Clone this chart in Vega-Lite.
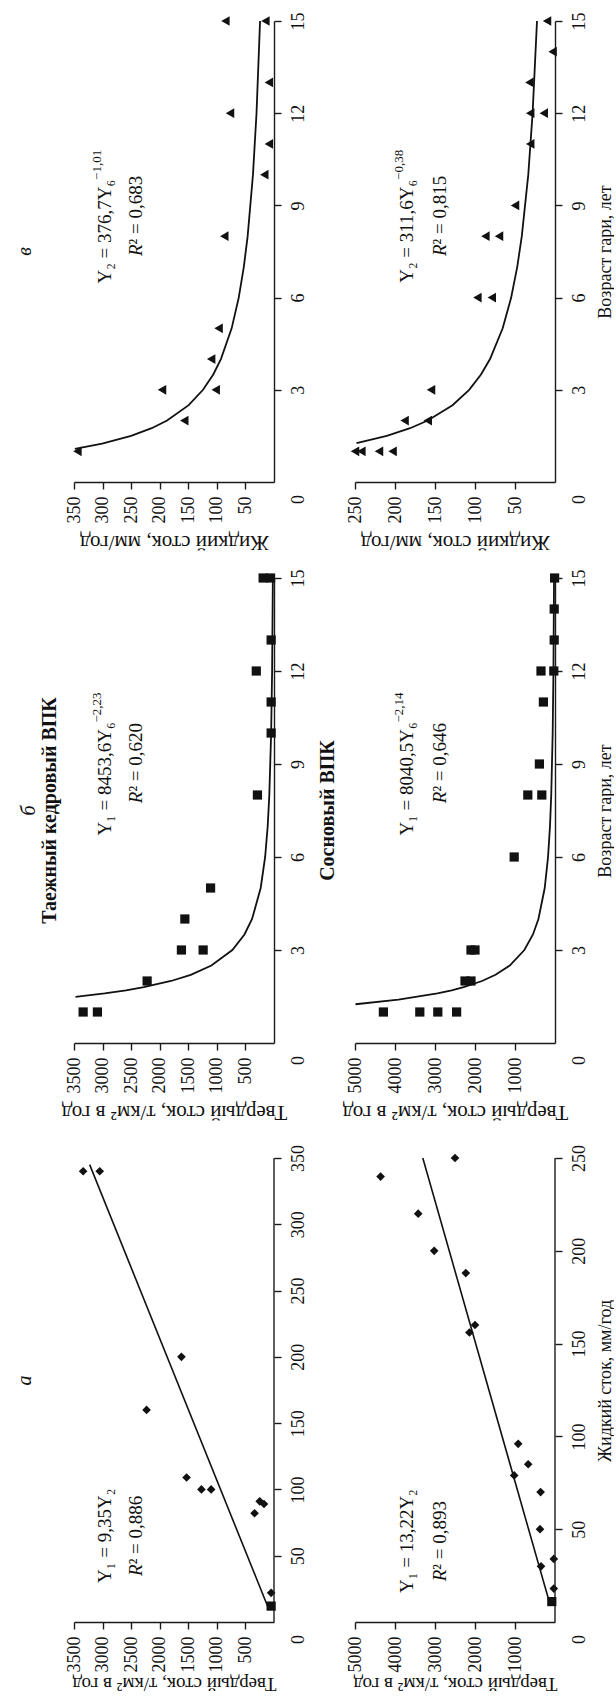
{
  "$schema": "https://vega.github.io/schema/vega-lite/v6.json",
  "background": "white",
  "padding": {"left": 15, "top": 11, "right": 0, "bottom": 0},
  "bounds": "flush",
  "align": "each",
  "columns": 2,
  "spacing": {"row": 96, "column": 81},
  "concat": [
    {
      "width": 200, "height": 461,
      "title": {"text": "в", "orient": "left", "frame": "group", "anchor": "middle", "fontStyle": "italic", "fontWeight": "normal", "fontSize": 20, "offset": 30},
      "layer": [
        {
          "data": {"name": "ta_v"},
          "mark": {"type": "point", "shape": "triangle-left", "filled": true, "color": "#111", "size": 95, "opacity": 1},
          "encoding": {
            "x": {"field": "liquid", "type": "quantitative", "title": "Жидкий сток, мм/год", "scale": {"domain": [0, 350], "reverse": true, "nice": false},
              "axis": {"orient": "bottom", "format": "d", "tickCount": 20, "labelOverlap": false, "values": [50, 100, 150, 200, 250, 300, 350], "labelAngle": 270, "labelAlign": "right", "labelBaseline": "middle", "labelPadding": 7, "titleAngle": 180, "titleBaseline": "bottom", "titlePadding": 8}},
            "y": {"field": "age", "type": "quantitative", "title": null, "scale": {"domain": [0, 15], "nice": false},
              "axis": {"orient": "right", "format": "d", "tickCount": 20, "labelOverlap": false, "values": [0, 3, 6, 9, 12, 15], "labelAngle": 270, "labelAlign": "center", "labelBaseline": "top", "labelPadding": 8,
                "labelOffset": {"condition": {"test": "datum.value == 0", "value": 17}, "value": 0},
                "tickOpacity": {"condition": {"test": "datum.value == 0", "value": 0}, "value": 1}}}
          }
        },
        {
          "data": {"name": "ta_v_fit"},
          "mark": {"type": "line", "color": "#111", "strokeWidth": 1.8},
          "encoding": {"x": {"field": "liquid", "type": "quantitative", "title": "Жидкий сток, мм/год"}, "y": {"field": "age", "type": "quantitative", "title": null}}
        },
        {
          "data": {"values": [{}]},
          "mark": {"type": "text", "angle": 270, "align": "right", "baseline": "middle", "fontSize": 19, "color": "#111"},
          "encoding": {"x": {"datum": 296}, "y": {"datum": 9.83}, "text": {"value": "Y₂ = 376,7Y₆"}}
        },
        {
          "data": {"values": [{}]},
          "mark": {"type": "text", "angle": 270, "align": "left", "baseline": "middle", "fontSize": 13, "dy": -8, "color": "#111"},
          "encoding": {"x": {"datum": 296}, "y": {"datum": 9.83}, "text": {"value": "−1,01"}}
        },
        {
          "data": {"values": [{}]},
          "mark": {"type": "text", "angle": 270, "align": "right", "baseline": "middle", "fontSize": 19, "fontStyle": "italic", "color": "#111"},
          "encoding": {"x": {"datum": 241}, "y": {"datum": 7.73}, "text": {"value": "R"}}
        },
        {
          "data": {"values": [{}]},
          "mark": {"type": "text", "angle": 270, "align": "left", "baseline": "middle", "fontSize": 19, "color": "#111"},
          "encoding": {"x": {"datum": 241}, "y": {"datum": 7.73}, "text": {"value": "² = 0,683"}}
        }
      ]
    },
    {
      "width": 200, "height": 461,
      "layer": [
        {
          "data": {"name": "so_v"},
          "mark": {"type": "point", "shape": "triangle-left", "filled": true, "color": "#111", "size": 95, "opacity": 1},
          "encoding": {
            "x": {"field": "liquid", "type": "quantitative", "title": "Жидкий сток, мм/год", "scale": {"domain": [0, 250], "reverse": true, "nice": false},
              "axis": {"orient": "bottom", "format": "d", "tickCount": 20, "labelOverlap": false, "values": [50, 100, 150, 200, 250], "labelAngle": 270, "labelAlign": "right", "labelBaseline": "middle", "labelPadding": 7, "titleAngle": 180, "titleBaseline": "bottom", "titlePadding": 8}},
            "y": {"field": "age", "type": "quantitative", "title": "Возраст гари, лет", "scale": {"domain": [0, 15], "nice": false},
              "axis": {"orient": "right", "format": "d", "tickCount": 20, "labelOverlap": false, "values": [0, 3, 6, 9, 12, 15], "labelAngle": 270, "labelAlign": "center", "labelBaseline": "top", "labelPadding": 8,
                "labelOffset": {"condition": {"test": "datum.value == 0", "value": 17}, "value": 0},
                "tickOpacity": {"condition": {"test": "datum.value == 0", "value": 0}, "value": 1},
                "titleAngle": 270, "titleBaseline": "top", "titlePadding": 8, "titleFontSize": 18}}
          }
        },
        {
          "data": {"name": "so_v_fit"},
          "mark": {"type": "line", "color": "#111", "strokeWidth": 1.8},
          "encoding": {"x": {"field": "liquid", "type": "quantitative", "title": "Жидкий сток, мм/год"}, "y": {"field": "age", "type": "quantitative", "title": "Возраст гари, лет"}}
        },
        {
          "data": {"values": [{}]},
          "mark": {"type": "text", "angle": 270, "align": "right", "baseline": "middle", "fontSize": 19, "color": "#111"},
          "encoding": {"x": {"datum": 185}, "y": {"datum": 9.83}, "text": {"value": "Y₂ = 311,6Y₆"}}
        },
        {
          "data": {"values": [{}]},
          "mark": {"type": "text", "angle": 270, "align": "left", "baseline": "middle", "fontSize": 13, "dy": -8, "color": "#111"},
          "encoding": {"x": {"datum": 185}, "y": {"datum": 9.83}, "text": {"value": "−0,38"}}
        },
        {
          "data": {"values": [{}]},
          "mark": {"type": "text", "angle": 270, "align": "right", "baseline": "middle", "fontSize": 19, "fontStyle": "italic", "color": "#111"},
          "encoding": {"x": {"datum": 144}, "y": {"datum": 7.73}, "text": {"value": "R"}}
        },
        {
          "data": {"values": [{}]},
          "mark": {"type": "text", "angle": 270, "align": "left", "baseline": "middle", "fontSize": 19, "color": "#111"},
          "encoding": {"x": {"datum": 144}, "y": {"datum": 7.73}, "text": {"value": "² = 0,815"}}
        }
      ]
    },
    {
      "width": 200, "height": 465,
      "title": {"text": "б", "subtitle": "Таежный кедровый ВПК", "orient": "left", "frame": "group", "anchor": "middle", "fontStyle": "italic", "fontWeight": "normal", "fontSize": 20, "subtitleFont": "Liberation Serif", "subtitleFontWeight": "bold", "subtitleFontSize": 20, "subtitleColor": "#111", "subtitlePadding": 1, "offset": 1},
      "layer": [
        {
          "data": {"name": "ta_b"},
          "mark": {"type": "point", "shape": "square", "filled": true, "color": "#111", "size": 85, "opacity": 1},
          "encoding": {
            "x": {"field": "solid", "type": "quantitative", "title": "Твердый сток, т/км² в год", "scale": {"domain": [0, 3500], "reverse": true, "nice": false},
              "axis": {"orient": "bottom", "format": "d", "tickCount": 20, "labelOverlap": false, "values": [500, 1000, 1500, 2000, 2500, 3000, 3500], "labelAngle": 270, "labelAlign": "right", "labelBaseline": "middle", "labelPadding": 7, "titleAngle": 180, "titleBaseline": "bottom", "titlePadding": 8}},
            "y": {"field": "age", "type": "quantitative", "title": null, "scale": {"domain": [0, 15], "nice": false},
              "axis": {"orient": "right", "format": "d", "tickCount": 20, "labelOverlap": false, "values": [0, 3, 6, 9, 12, 15], "labelAngle": 270, "labelAlign": "center", "labelBaseline": "top", "labelPadding": 8,
                "labelOffset": {"condition": {"test": "datum.value == 0", "value": 17}, "value": 0},
                "tickOpacity": {"condition": {"test": "datum.value == 0", "value": 0}, "value": 1}}}
          }
        },
        {
          "data": {"name": "ta_b_fit"},
          "mark": {"type": "line", "color": "#111", "strokeWidth": 1.8},
          "encoding": {"x": {"field": "solid", "type": "quantitative", "title": "Твердый сток, т/км² в год"}, "y": {"field": "age", "type": "quantitative", "title": null}}
        },
        {
          "data": {"values": [{}]},
          "mark": {"type": "text", "angle": 270, "align": "right", "baseline": "middle", "fontSize": 19, "color": "#111"},
          "encoding": {"x": {"datum": 2957}, "y": {"datum": 10.34}, "text": {"value": "Y₁ = 8453,6Y₆"}}
        },
        {
          "data": {"values": [{}]},
          "mark": {"type": "text", "angle": 270, "align": "left", "baseline": "middle", "fontSize": 13, "dy": -8, "color": "#111"},
          "encoding": {"x": {"datum": 2957}, "y": {"datum": 10.34}, "text": {"value": "−2,23"}}
        },
        {
          "data": {"values": [{}]},
          "mark": {"type": "text", "angle": 270, "align": "right", "baseline": "middle", "fontSize": 19, "fontStyle": "italic", "color": "#111"},
          "encoding": {"x": {"datum": 2415}, "y": {"datum": 8.11}, "text": {"value": "R"}}
        },
        {
          "data": {"values": [{}]},
          "mark": {"type": "text", "angle": 270, "align": "left", "baseline": "middle", "fontSize": 19, "color": "#111"},
          "encoding": {"x": {"datum": 2415}, "y": {"datum": 8.11}, "text": {"value": "² = 0,620"}}
        }
      ]
    },
    {
      "width": 200, "height": 465,
      "title": {"text": "Сосновый ВПК", "orient": "left", "frame": "group", "anchor": "middle", "fontWeight": "bold", "fontSize": 20, "offset": 4},
      "layer": [
        {
          "data": {"name": "so_b"},
          "mark": {"type": "point", "shape": "square", "filled": true, "color": "#111", "size": 85, "opacity": 1},
          "encoding": {
            "x": {"field": "solid", "type": "quantitative", "title": "Твердый сток, т/км² в год", "scale": {"domain": [0, 5000], "reverse": true, "nice": false},
              "axis": {"orient": "bottom", "format": "d", "tickCount": 20, "labelOverlap": false, "values": [1000, 2000, 3000, 4000, 5000], "labelAngle": 270, "labelAlign": "right", "labelBaseline": "middle", "labelPadding": 7, "titleAngle": 180, "titleBaseline": "bottom", "titlePadding": 8}},
            "y": {"field": "age", "type": "quantitative", "title": "Возраст гари, лет", "scale": {"domain": [0, 15], "nice": false},
              "axis": {"orient": "right", "format": "d", "tickCount": 20, "labelOverlap": false, "values": [0, 3, 6, 9, 12, 15], "labelAngle": 270, "labelAlign": "center", "labelBaseline": "top", "labelPadding": 8,
                "labelOffset": {"condition": {"test": "datum.value == 0", "value": 17}, "value": 0},
                "tickOpacity": {"condition": {"test": "datum.value == 0", "value": 0}, "value": 1},
                "titleAngle": 270, "titleBaseline": "top", "titlePadding": 8, "titleFontSize": 18}}
          }
        },
        {
          "data": {"name": "so_b_fit"},
          "mark": {"type": "line", "color": "#111", "strokeWidth": 1.8},
          "encoding": {"x": {"field": "solid", "type": "quantitative", "title": "Твердый сток, т/км² в год"}, "y": {"field": "age", "type": "quantitative", "title": "Возраст гари, лет"}}
        },
        {
          "data": {"values": [{}]},
          "mark": {"type": "text", "angle": 270, "align": "right", "baseline": "middle", "fontSize": 19, "color": "#111"},
          "encoding": {"x": {"datum": 3700}, "y": {"datum": 10.34}, "text": {"value": "Y₁ = 8040,5Y₆"}}
        },
        {
          "data": {"values": [{}]},
          "mark": {"type": "text", "angle": 270, "align": "left", "baseline": "middle", "fontSize": 13, "dy": -8, "color": "#111"},
          "encoding": {"x": {"datum": 3700}, "y": {"datum": 10.34}, "text": {"value": "−2,14"}}
        },
        {
          "data": {"values": [{}]},
          "mark": {"type": "text", "angle": 270, "align": "right", "baseline": "middle", "fontSize": 19, "fontStyle": "italic", "color": "#111"},
          "encoding": {"x": {"datum": 2875}, "y": {"datum": 8.11}, "text": {"value": "R"}}
        },
        {
          "data": {"values": [{}]},
          "mark": {"type": "text", "angle": 270, "align": "left", "baseline": "middle", "fontSize": 19, "color": "#111"},
          "encoding": {"x": {"datum": 2875}, "y": {"datum": 8.11}, "text": {"value": "² = 0,646"}}
        }
      ]
    },
    {
      "width": 200, "height": 483,
      "title": {"text": "а", "orient": "left", "frame": "group", "anchor": "middle", "fontStyle": "italic", "fontWeight": "normal", "fontSize": 20, "offset": 30},
      "layer": [
        {
          "data": {"name": "ta_a"},
          "mark": {"type": "point", "shape": "diamond", "filled": true, "color": "#111", "size": 75, "opacity": 1},
          "encoding": {
            "x": {"field": "solid", "type": "quantitative", "title": "Твердый сток, т/км² в год", "scale": {"domain": [0, 3500], "reverse": true, "nice": false},
              "axis": {"orient": "bottom", "format": "d", "tickCount": 20, "labelOverlap": false, "values": [500, 1000, 1500, 2000, 2500, 3000, 3500], "labelAngle": 270, "labelAlign": "right", "labelBaseline": "middle", "labelPadding": 7, "titleAngle": 180, "titleBaseline": "bottom", "titlePadding": 1, "titleFontSize": 19}},
            "y": {"field": "liquid", "type": "quantitative", "title": null, "scale": {"domain": [0, 364.33], "nice": false},
              "axis": {"orient": "right", "format": "d", "tickCount": 20, "labelOverlap": false, "domain": false, "values": [0, 50, 100, 150, 200, 250, 300, 350], "labelAngle": 270, "labelAlign": "center", "labelBaseline": "top", "labelPadding": 8,
                "labelOffset": {"condition": {"test": "datum.value == 0", "value": 17}, "value": 0},
                "tickOpacity": {"condition": {"test": "datum.value == 0", "value": 0}, "value": 1}}}
          }
        },
        {
          "data": {"values": [{}]},
          "mark": {"type": "rule", "color": "#1a1a1a", "strokeWidth": 1.4},
          "encoding": {"x": {"datum": 0}, "y": {"datum": 0}, "y2": {"datum": 350}}
        },
        {
          "data": {"name": "ta_a_sq"},
          "mark": {"type": "point", "shape": "square", "filled": true, "color": "#111", "size": 85, "opacity": 1},
          "encoding": {"x": {"field": "solid", "type": "quantitative", "title": "Твердый сток, т/км² в год"}, "y": {"field": "liquid", "type": "quantitative", "title": null}}
        },
        {
          "data": {"name": "ta_a_fit"},
          "mark": {"type": "line", "color": "#111", "strokeWidth": 1.6},
          "encoding": {"x": {"field": "solid", "type": "quantitative", "title": "Твердый сток, т/км² в год"}, "y": {"field": "liquid", "type": "quantitative", "title": null}}
        },
        {
          "data": {"values": [{}]},
          "mark": {"type": "text", "angle": 270, "align": "center", "baseline": "middle", "fontSize": 19, "color": "#111"},
          "encoding": {"x": {"datum": 2957}, "y": {"datum": 65}, "text": {"value": "Y₁ = 9,35Y₂"}}
        },
        {
          "data": {"values": [{}]},
          "mark": {"type": "text", "angle": 270, "align": "right", "baseline": "middle", "fontSize": 19, "fontStyle": "italic", "color": "#111"},
          "encoding": {"x": {"datum": 2415}, "y": {"datum": 43.5}, "text": {"value": "R"}}
        },
        {
          "data": {"values": [{}]},
          "mark": {"type": "text", "angle": 270, "align": "left", "baseline": "middle", "fontSize": 19, "color": "#111"},
          "encoding": {"x": {"datum": 2415}, "y": {"datum": 43.5}, "text": {"value": "² = 0,886"}}
        }
      ]
    },
    {
      "width": 200, "height": 483,
      "layer": [
        {
          "data": {"name": "so_a"},
          "mark": {"type": "point", "shape": "diamond", "filled": true, "color": "#111", "size": 75, "opacity": 1},
          "encoding": {
            "x": {"field": "solid", "type": "quantitative", "title": "Твердый сток, т/км² в год", "scale": {"domain": [0, 5000], "reverse": true, "nice": false},
              "axis": {"orient": "bottom", "format": "d", "tickCount": 20, "labelOverlap": false, "values": [1000, 2000, 3000, 4000, 5000], "labelAngle": 270, "labelAlign": "right", "labelBaseline": "middle", "labelPadding": 7, "titleAngle": 180, "titleBaseline": "bottom", "titlePadding": 1, "titleFontSize": 19}},
            "y": {"field": "liquid", "type": "quantitative", "title": "Жидкий сток, мм/год", "scale": {"domain": [0, 260.24], "nice": false},
              "axis": {"orient": "right", "format": "d", "tickCount": 20, "labelOverlap": false, "domain": false, "values": [0, 50, 100, 150, 200, 250], "labelAngle": 270, "labelAlign": "center", "labelBaseline": "top", "labelPadding": 8,
                "labelOffset": {"condition": {"test": "datum.value == 0", "value": 17}, "value": 0},
                "tickOpacity": {"condition": {"test": "datum.value == 0", "value": 0}, "value": 1},
                "titleAngle": 270, "titleBaseline": "top", "titlePadding": 8, "titleFontSize": 18}}
          }
        },
        {
          "data": {"values": [{}]},
          "mark": {"type": "rule", "color": "#1a1a1a", "strokeWidth": 1.4},
          "encoding": {"x": {"datum": 0}, "y": {"datum": 0}, "y2": {"datum": 250}}
        },
        {
          "data": {"name": "so_a_sq"},
          "mark": {"type": "point", "shape": "square", "filled": true, "color": "#111", "size": 85, "opacity": 1},
          "encoding": {"x": {"field": "solid", "type": "quantitative", "title": "Твердый сток, т/км² в год"}, "y": {"field": "liquid", "type": "quantitative", "title": "Жидкий сток, мм/год"}}
        },
        {
          "data": {"name": "so_a_fit"},
          "mark": {"type": "line", "color": "#111", "strokeWidth": 1.6},
          "encoding": {"x": {"field": "solid", "type": "quantitative", "title": "Твердый сток, т/км² в год"}, "y": {"field": "liquid", "type": "quantitative", "title": "Жидкий сток, мм/год"}}
        },
        {
          "data": {"values": [{}]},
          "mark": {"type": "text", "angle": 270, "align": "center", "baseline": "middle", "fontSize": 19, "color": "#111"},
          "encoding": {"x": {"datum": 3700}, "y": {"datum": 43.6}, "text": {"value": "Y₁ = 13,22Y₂"}}
        },
        {
          "data": {"values": [{}]},
          "mark": {"type": "text", "angle": 270, "align": "right", "baseline": "middle", "fontSize": 19, "fontStyle": "italic", "color": "#111"},
          "encoding": {"x": {"datum": 2875}, "y": {"datum": 28.2}, "text": {"value": "R"}}
        },
        {
          "data": {"values": [{}]},
          "mark": {"type": "text", "angle": 270, "align": "left", "baseline": "middle", "fontSize": 19, "color": "#111"},
          "encoding": {"x": {"datum": 2875}, "y": {"datum": 28.2}, "text": {"value": "² = 0,893"}}
        }
      ]
    }
  ],
  "datasets": {
    "ta_a": [
      {"liquid": 340, "solid": 3340}, {"liquid": 340, "solid": 3050}, {"liquid": 200, "solid": 1620},
      {"liquid": 160, "solid": 2230}, {"liquid": 109, "solid": 1530}, {"liquid": 100, "solid": 1270},
      {"liquid": 100, "solid": 1100}, {"liquid": 82, "solid": 340}, {"liquid": 91, "solid": 250},
      {"liquid": 89, "solid": 175}, {"liquid": 22, "solid": 50}
    ],
    "ta_a_sq": [{"liquid": 12, "solid": 50}],
    "ta_a_fit": [{"liquid": 10, "solid": 94}, {"liquid": 345, "solid": 3226}],
    "ta_b": [
      {"age": 1, "solid": 3340}, {"age": 1, "solid": 3090}, {"age": 2, "solid": 2220},
      {"age": 3, "solid": 1620}, {"age": 3, "solid": 1240}, {"age": 4, "solid": 1560},
      {"age": 5, "solid": 1110}, {"age": 8, "solid": 290}, {"age": 10, "solid": 50},
      {"age": 11, "solid": 50}, {"age": 12, "solid": 310}, {"age": 13, "solid": 50},
      {"age": 15, "solid": 60}, {"age": 15, "solid": 190}
    ],
    "ta_b_fit": [
      {"age": 1.49, "solid": 3474}, {"age": 1.6, "solid": 2964}, {"age": 1.7, "solid": 2589},
      {"age": 1.8, "solid": 2279}, {"age": 2, "solid": 1802}, {"age": 2.2, "solid": 1457},
      {"age": 2.5, "solid": 1096}, {"age": 3, "solid": 729}, {"age": 3.5, "solid": 517},
      {"age": 4, "solid": 384}, {"age": 5, "solid": 233}, {"age": 6, "solid": 155},
      {"age": 7, "solid": 110}, {"age": 8, "solid": 82}, {"age": 10, "solid": 50},
      {"age": 12, "solid": 33}, {"age": 15, "solid": 20}
    ],
    "ta_v": [
      {"age": 1, "liquid": 344}, {"age": 2, "liquid": 157}, {"age": 3, "liquid": 196},
      {"age": 3, "liquid": 102}, {"age": 4, "liquid": 110}, {"age": 5, "liquid": 97},
      {"age": 8, "liquid": 87}, {"age": 10, "liquid": 17}, {"age": 11, "liquid": 9},
      {"age": 12, "liquid": 77}, {"age": 13, "liquid": 9}, {"age": 15, "liquid": 85},
      {"age": 15, "liquid": 15}
    ],
    "ta_v_fit": [
      {"age": 1.08, "liquid": 348.5}, {"age": 1.25, "liquid": 300.7}, {"age": 1.5, "liquid": 250.1},
      {"age": 1.75, "liquid": 214.1}, {"age": 2, "liquid": 187.1}, {"age": 2.5, "liquid": 149.3},
      {"age": 3, "liquid": 124.2}, {"age": 3.5, "liquid": 106.3}, {"age": 4, "liquid": 92.9},
      {"age": 5, "liquid": 74.1}, {"age": 6, "liquid": 61.7}, {"age": 7, "liquid": 52.8},
      {"age": 8, "liquid": 46.1}, {"age": 10, "liquid": 36.8}, {"age": 12, "liquid": 30.6},
      {"age": 15, "liquid": 24.4}
    ],
    "so_a": [
      {"liquid": 240, "solid": 4360}, {"liquid": 250, "solid": 2500}, {"liquid": 220, "solid": 3420},
      {"liquid": 200, "solid": 3020}, {"liquid": 188, "solid": 2230}, {"liquid": 156, "solid": 2140},
      {"liquid": 160, "solid": 2000}, {"liquid": 79, "solid": 1020}, {"liquid": 85, "solid": 670},
      {"liquid": 96, "solid": 920}, {"liquid": 70, "solid": 360}, {"liquid": 50, "solid": 375},
      {"liquid": 30, "solid": 350}, {"liquid": 34, "solid": 30}, {"liquid": 18, "solid": 30}
    ],
    "so_a_sq": [{"liquid": 11, "solid": 80}],
    "so_a_fit": [{"liquid": 11, "solid": 145}, {"liquid": 250, "solid": 3305}],
    "so_b": [
      {"age": 1, "solid": 4290}, {"age": 1, "solid": 3380}, {"age": 1, "solid": 2930},
      {"age": 1, "solid": 2460}, {"age": 2, "solid": 2250}, {"age": 2, "solid": 2100},
      {"age": 3, "solid": 2100}, {"age": 3, "solid": 2000}, {"age": 6, "solid": 1020},
      {"age": 8, "solid": 680}, {"age": 8, "solid": 330}, {"age": 9, "solid": 390},
      {"age": 11, "solid": 290}, {"age": 12, "solid": 350}, {"age": 12, "solid": 30},
      {"age": 13, "solid": 20}, {"age": 14, "solid": 20}, {"age": 15, "solid": 10}
    ],
    "so_b_fit": [
      {"age": 1.25, "solid": 4988}, {"age": 1.4, "solid": 3914}, {"age": 1.6, "solid": 2940},
      {"age": 1.7, "solid": 2583}, {"age": 1.8, "solid": 2286}, {"age": 2, "solid": 1824},
      {"age": 2.2, "solid": 1487}, {"age": 2.5, "solid": 1131}, {"age": 3, "solid": 766},
      {"age": 3.5, "solid": 551}, {"age": 4, "solid": 414}, {"age": 5, "solid": 257},
      {"age": 6, "solid": 174}, {"age": 7, "solid": 125}, {"age": 8, "solid": 94},
      {"age": 10, "solid": 58}, {"age": 12, "solid": 39}, {"age": 15, "solid": 24}
    ],
    "so_v": [
      {"age": 1, "liquid": 250}, {"age": 1, "liquid": 242}, {"age": 1, "liquid": 220},
      {"age": 1, "liquid": 203}, {"age": 2, "liquid": 188}, {"age": 2, "liquid": 159},
      {"age": 3, "liquid": 155}, {"age": 6, "liquid": 97}, {"age": 6, "liquid": 79},
      {"age": 8, "liquid": 87}, {"age": 8, "liquid": 70}, {"age": 9, "liquid": 50},
      {"age": 11, "liquid": 31}, {"age": 12, "liquid": 31}, {"age": 12, "liquid": 14},
      {"age": 13, "liquid": 32}, {"age": 14, "liquid": 3}, {"age": 15, "liquid": 10}
    ],
    "so_v_fit": [
      {"age": 1.265, "liquid": 248.1}, {"age": 1.5, "liquid": 210.3}, {"age": 1.75, "liquid": 181.1},
      {"age": 2, "liquid": 159.1}, {"age": 2.5, "liquid": 128.1}, {"age": 3, "liquid": 107.3},
      {"age": 3.5, "liquid": 92.5}, {"age": 4, "liquid": 81.2}, {"age": 5, "liquid": 65.4},
      {"age": 6, "liquid": 54.8}, {"age": 7, "liquid": 47.2}, {"age": 8, "liquid": 41.5},
      {"age": 10, "liquid": 33.4}, {"age": 12, "liquid": 28.0}, {"age": 15, "liquid": 22.5}
    ]
  },
  "config": {
    "font": "Liberation Serif",
    "view": {"stroke": null},
    "title": {"font": "Liberation Serif", "color": "#111"},
    "text": {"font": "Liberation Serif"},
    "axis": {
      "domainColor": "#1a1a1a", "tickColor": "#1a1a1a", "labelColor": "#111", "titleColor": "#111",
      "labelFont": "Liberation Serif", "titleFont": "Liberation Serif", "labelFontSize": 18, "titleFontSize": 21,
      "titleFontWeight": "normal", "grid": false, "tickSize": 7, "domainWidth": 1.4, "tickWidth": 1.4,
      "labelFlush": false, "labelBound": false, "labelOverlap": false
    }
  }
}
